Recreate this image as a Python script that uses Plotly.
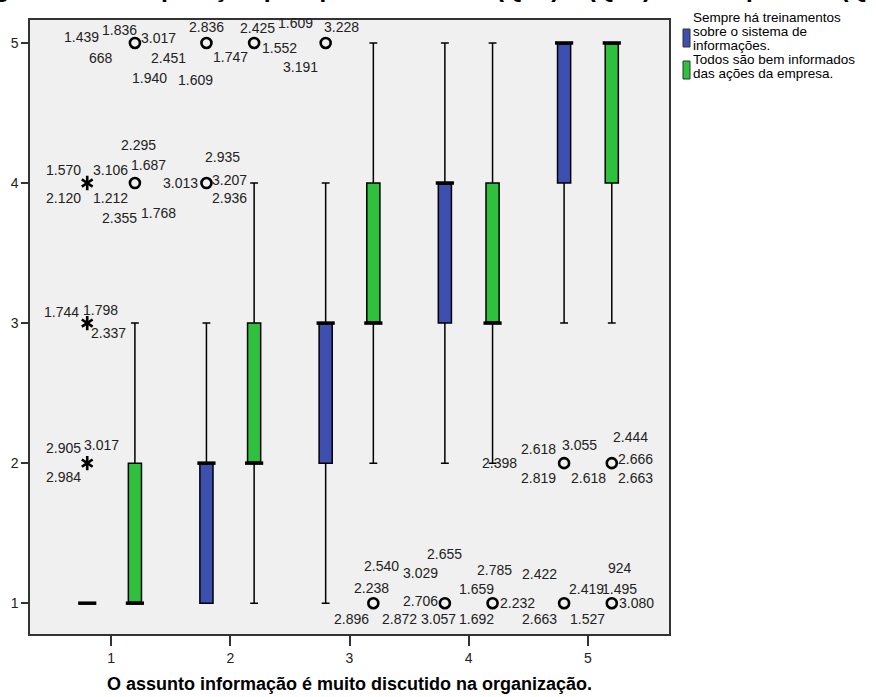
import plotly.graph_objects as go

# ---------------- data ----------------
categories = [1, 2, 3, 4, 5]
tick_labels = ["1", "2", "3", "4", "5"]
y_ticks = [1, 2, 3, 4, 5]

series_names = ["Sempre há treinamentos sobre o sistema de informações.",
                "Todos são bem informados das ações da empresa."]

# Series 1 (blue): "Sempre há treinamentos sobre o sistema de informações."
blue_q1 = [1, 1, 2, 3, 4]
blue_median = [1, 2, 3, 4, 5]
blue_q3 = [1, 2, 3, 4, 5]
blue_low = [1, 1, 1, 2, 3]
blue_high = [1, 3, 4, 5, 5]

# Series 2 (green): "Todos são bem informados das ações da empresa."
green_q1 = [1, 2, 3, 3, 4]
green_median = [1, 2, 3, 3, 5]
green_q3 = [2, 3, 4, 4, 5]
green_low = [1, 1, 2, 2, 3]
green_high = [3, 4, 5, 5, 5]

# outliers: category, value, kind ('*' extreme, 'o' outlier), case labels
blue_out_cat = [1, 1, 1, 2, 2, 3, 4, 5, 5]
blue_out_val = [2, 3, 4, 4, 5, 5, 1, 1, 2]
blue_out_kind = ["*", "*", "*", "o", "o", "o", "o", "o", "o"]
blue_out_ids = [
    ["2.905", "3.017", "2.984"],
    ["1.744", "1.798", "2.337"],
    ["1.570", "3.106", "2.120", "1.212"],
    ["3.013", "2.935", "3.207", "2.936"],
    ["2.836", "1.747", "1.609"],
    ["3.228"],
    ["2.706", "3.057", "3.029", "2.655"],
    ["2.422", "2.663", "2.419", "1.527"],
    ["2.398", "2.618", "3.055", "2.819", "2.618"],
]

green_out_cat = [1, 1, 2, 3, 4, 5, 5]
green_out_val = [4, 5, 5, 1, 1, 1, 2]
green_out_kind = ["o", "o", "o", "o", "o", "o", "o"]
green_out_ids = [
    ["2.295", "1.687", "2.355", "1.768"],
    ["1.439", "1.836", "3.017", "668", "2.451", "1.940"],
    ["2.425", "1.609", "1.552", "3.191"],
    ["2.238", "2.540", "2.896", "2.872"],
    ["1.659", "2.785", "1.692", "2.232"],
    ["1.495", "924", "3.080"],
    ["2.444", "2.666", "2.663"],
]

x_title = "O assunto informação é muito discutido na organização."
chart_title = "Figura 12 - Comparação por questões entre (Q17) e (Q18) com a questão (Q15)"

# ---------------- layout / style (pixel offsets of case labels) ----------------
blue_label_offsets = [
    [(-23.5, -15), (14.5, -18), (-23.5, 14)],
    [(-26, -11), (13, -13), (21.5, 10)],
    [(-23.5, -13), (23, -13), (-23.5, 15), (23, 15)],
    [(-25.5, 0), (16.5, -26), (23, -3), (23, 15)],
    [(0, -16), (24.5, 14), (-10.5, 37)],
    [(15.5, -16)],
    [(-24.5, -2), (-6, 16), (-24.5, -30), (0, -49)],
    [(-25, -29), (-25, 16), (22.5, -14), (23.5, 16)],
    [(-64.5, 0), (-26, -14), (15.5, -18), (-26, 15), (24, 15)],
]
green_label_offsets = [
    [(4, -38), (13.5, -18), (-15, 35), (23.5, 30)],
    [(-53.5, -6), (-15, -13), (23.5, -5), (-33.5, 15), (33.5, 15), (15, 35)],
    [(3.5, -15), (41.5, -20), (25, 5), (46.5, 24)],
    [(-1.5, -15), (8.5, -37), (-22, 16), (26.5, 16)],
    [(-16.5, -14), (2, -33), (-16.5, 16), (25, 0)],
    [(8, -14), (8, -35), (24.5, 0)],
    [(18.5, -26), (23.5, -4), (23.5, 15)],
]

BLUE = "#3D50B0"
GREEN = "#2FC03E"
OFFSET = 0.2
W, H = 876, 697
ML, MR, MT, MB = 30, 207, 20, 63
PW, PH = W - ML - MR, H - MT - MB
FONT = "Liberation Sans, Arial, sans-serif"


def px_x(px):
    return (px - ML) / PW


def px_y(py):
    return (H - MB - py) / PH


fig = go.Figure()

for name, color, q1, med, q3, lo, hi in [
    (series_names[0], BLUE, blue_q1, blue_median, blue_q3, blue_low, blue_high),
    (series_names[1], GREEN, green_q1, green_median, green_q3, green_low, green_high),
]:
    fig.add_trace(go.Box(
        x=categories, q1=q1, median=med, q3=q3, lowerfence=lo, upperfence=hi,
        name=name, fillcolor=color, line=dict(color="black", width=1.5),
        whiskerwidth=0.6, boxpoints=False, showlegend=False, hoverinfo="skip",
    ))

# thick median lines
for sign, med in [(-1, blue_median), (1, green_median)]:
    fig.add_trace(go.Scatter(
        x=[c + sign * OFFSET for c in categories], y=med, mode="markers",
        marker=dict(symbol="line-ew", size=13, line=dict(color="black", width=3.5)),
        showlegend=False, hoverinfo="skip",
    ))

annotations = []
for sign, cats, vals, kinds, ids, offs in [
    (-1, blue_out_cat, blue_out_val, blue_out_kind, blue_out_ids, blue_label_offsets),
    (1, green_out_cat, green_out_val, green_out_kind, green_out_ids, green_label_offsets),
]:
    xs = [c + sign * OFFSET for c in cats]
    circ = [i for i, k in enumerate(kinds) if k == "o"]
    star = [i for i, k in enumerate(kinds) if k == "*"]
    if circ:
        fig.add_trace(go.Scatter(
            x=[xs[i] for i in circ], y=[vals[i] for i in circ], mode="markers",
            marker=dict(symbol="circle-open", size=10, color="black",
                        line=dict(color="black", width=2.6)),
            showlegend=False, hoverinfo="skip"))
    if star:
        # six-armed asterisk = y-up + y-down
        for sym in ["y-up-open", "y-down-open"]:
            fig.add_trace(go.Scatter(
                x=[xs[i] for i in star], y=[vals[i] for i in star], mode="markers",
                marker=dict(symbol=sym, size=9, color="black",
                            line=dict(color="black", width=2.6)),
                showlegend=False, hoverinfo="skip"))
    for i in range(len(cats)):
        for txt, (dx, dy) in zip(ids[i], offs[i]):
            annotations.append(dict(
                x=xs[i], y=vals[i], xref="x", yref="y", text=txt, showarrow=False,
                xshift=dx, yshift=-dy, xanchor="center", yanchor="middle",
                font=dict(family=FONT, size=14, color="#222")))

# x axis title
annotations.append(dict(x=0.5, y=0, xref="paper", yref="paper", text="<b>" + x_title + "</b>",
                        showarrow=False, yshift=-50, yanchor="middle", xanchor="center",
                        font=dict(family=FONT, size=18, color="black")))
# cropped chart title at the very top (only its lowest parts show)
annotations.append(dict(x=px_x(438), y=1, xref="paper", yref="paper", text="<b>" + chart_title + "</b>",
                        showarrow=False, yshift=16, yanchor="bottom", xanchor="center",
                        font=dict(family=FONT, size=25, color="black")))

# legend (custom, to match wrapped text)
legend_lines = [
    ["Sempre há treinamentos", "sobre o sistema de", "informações."],
    ["Todos são bem informados", "das ações da empresa."],
]
line_y = [[17, 31, 45], [59, 73]]
swatch_y = [(29, 47), (61, 79)]
shapes = []
for color, lines, ys, (sy0, sy1) in zip([BLUE, GREEN], legend_lines, line_y, swatch_y):
    shapes.append(dict(type="rect", xref="paper", yref="paper",
                       x0=px_x(683), x1=px_x(690), y0=px_y(sy1), y1=px_y(sy0),
                       fillcolor=color, line=dict(color="#333", width=1)))
    for t, yy in zip(lines, ys):
        annotations.append(dict(x=px_x(691), y=px_y(yy), xref="paper", yref="paper", text=t,
                                showarrow=False, xanchor="left", yanchor="middle",
                                font=dict(family=FONT, size=13.5, color="black")))

fig.update_layout(
    width=W, height=H, margin=dict(l=ML, r=MR, t=MT, b=MB, autoexpand=False),
    paper_bgcolor="white", plot_bgcolor="#F0F0F0",
    boxmode="group", boxgap=0.2, boxgroupgap=0.725,
    showlegend=False, annotations=annotations, shapes=shapes,
    font=dict(family=FONT, color="black"),
)
fig.update_xaxes(range=[0.32, 5.68], tickvals=categories, ticktext=tick_labels,
                 ticks="outside", ticklen=10, tickcolor="#333", tickwidth=1.5,
                 showline=True, linecolor="#333", linewidth=1.5, mirror=True,
                 showgrid=False, zeroline=False, automargin=False,
                 tickfont=dict(size=14, color="#222"))
fig.update_yaxes(range=[0.78, 5.164], tickvals=y_ticks, ticks="outside", ticklen=7,
                 tickcolor="#333", tickwidth=1.5,
                 showline=True, linecolor="#333", linewidth=1.5, mirror=True,
                 showgrid=False, zeroline=False, automargin=False,
                 tickfont=dict(size=14, color="#222"))

fig.write_html("out.html", config={"displayModeBar": False},
               post_script="document.body.style.margin='0';document.body.style.overflow='hidden';")
